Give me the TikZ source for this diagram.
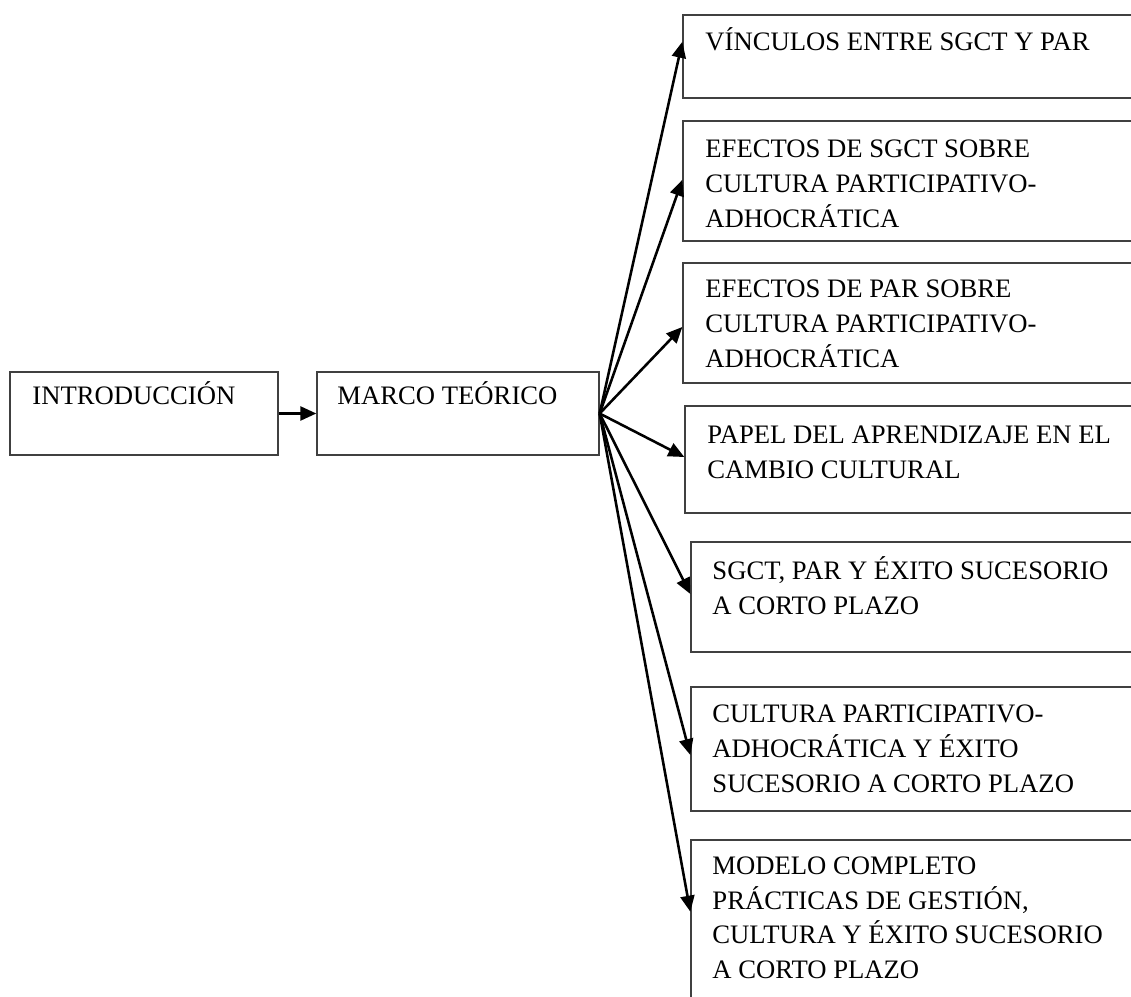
\documentclass[tikz,border=0pt]{standalone}
\usepackage{fontspec}
\setmainfont{Liberation Serif}
\usetikzlibrary{arrows.meta,calc,fit}
% stacked lines whose baseline is that of the first line
\newcommand{\stackedlines}[1]{\begin{tabular}[t]{@{}l@{}}#1\end{tabular}}
\begin{document}
\begin{tikzpicture}[x=0.45pt,y=-0.45pt,
  frame/.style={draw=black!75, line width=0.6pt, inner sep=0pt},
  txt/.style={anchor=base west, inner sep=0pt,
              font=\fontsize{12}{15.75}\selectfont},
  arr/.style={draw=black, line width=1.15pt,
              -{Triangle[length=7.2pt,width=6.3pt]}}]
\useasboundingbox (0,0) rectangle (1131,997);
\clip (0,0) rectangle (1131,997);

% left column
\node[frame, fit={(10,372) (278,455)}] (intro) {};
\node[txt] (introT) at (32,405) {INTRODUCCIÓN};
\node[frame, fit={(317,372) (599,455)}] (marco) {};
\node[txt] (marcoT) at (337,405) {MARCO TEÓRICO};

% right column (boxes run past the right edge)
\node[frame, fit={(683,15) (1145,98)}] (A) {};
\node[txt] (AT) at (705,51) {VÍNCULOS ENTRE SGCT Y PAR};
\node[frame, fit={(683,121) (1145,241)}] (B) {};
\node[txt] (BT) at (705,158) {\stackedlines{EFECTOS DE SGCT SOBRE\\CULTURA PARTICIPATIVO-\\ADHOCRÁTICA}};
\node[frame, fit={(683,263) (1145,383)}] (C) {};
\node[txt] (CT) at (705,298) {\stackedlines{EFECTOS DE PAR SOBRE\\CULTURA PARTICIPATIVO-\\ADHOCRÁTICA}};
\node[frame, fit={(685,406) (1145,513)}] (D) {};
\node[txt] (DT) at (707,444) {\stackedlines{PAPEL DEL APRENDIZAJE EN EL\\CAMBIO CULTURAL}};
\node[frame, fit={(691,542) (1145,652)}] (E) {};
\node[txt] (ET) at (712,580) {\stackedlines{SGCT, PAR Y ÉXITO SUCESORIO\\A CORTO PLAZO}};
\node[frame, fit={(691,687) (1145,811)}] (F) {};
\node[txt] (FT) at (712,723) {\stackedlines{CULTURA PARTICIPATIVO-\\ADHOCRÁTICA Y ÉXITO\\SUCESORIO A CORTO PLAZO}};
\node[frame, fit={(691,840) (1145,1060)}] (G) {};
\node[txt] (GT) at (712,874) {\stackedlines{MODELO COMPLETO\\PRÁCTICAS DE GESTIÓN,\\CULTURA Y ÉXITO SUCESORIO\\A CORTO PLAZO}};

% connectors
\draw[arr] (intro.east) -- (marco.west);
\draw[arr] (marco.east) -- ($(A.north west)!0.325!(A.south west)$);
\draw[arr] (marco.east) -- ($(B.north west)!0.49!(B.south west)$);
\draw[arr] (marco.east) -- ($(C.north west)!0.533!(C.south west)$);
\draw[arr] (marco.east) -- ($(D.north west)!0.477!(D.south west)$);
\draw[arr] (marco.east) -- ($(E.north west)!0.473!(E.south west)$);
\draw[arr] (marco.east) -- ($(F.north west)!0.548!(F.south west)$);
\draw[arr] (marco.east) -- ($(G.north west)!0.327!(G.south west)$);
\end{tikzpicture}
\end{document}
